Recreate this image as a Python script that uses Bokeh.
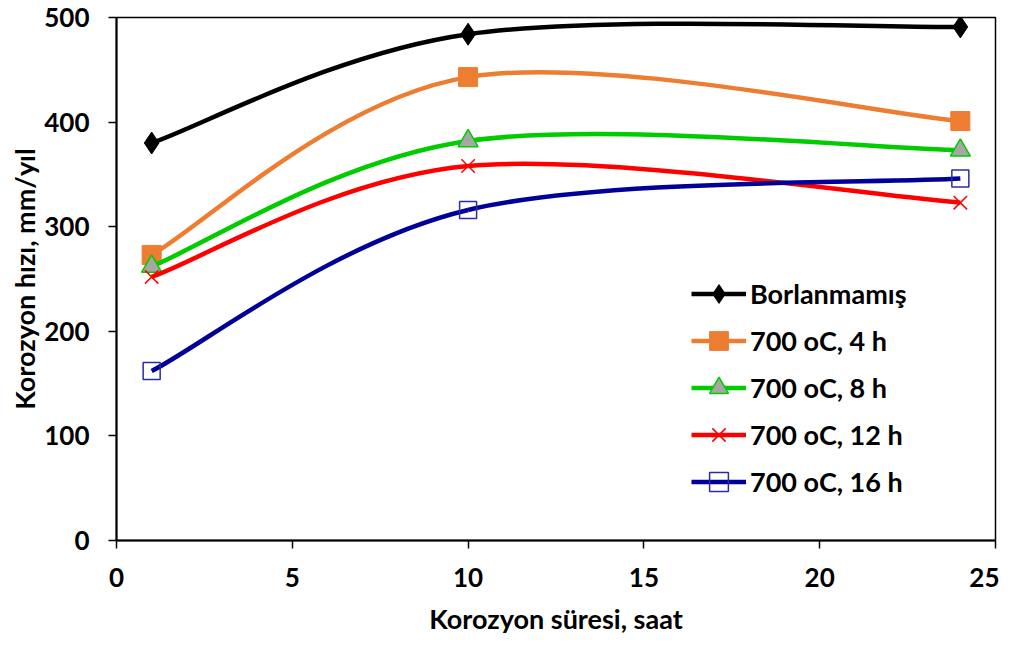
import numpy as np
from bokeh.plotting import figure
from bokeh.models import Legend, LegendItem, Range1d, FixedTicker
from bokeh.embed import file_html
from bokeh.resources import INLINE

hours = [1, 10, 24]
borlanmamis = [380, 484, 491]
b700_4h = [273, 443, 401]
b700_8h = [262, 382, 373]
b700_12h = [252, 358, 323]
b700_16h = [162, 316, 346]

series_names = ["Borlanmamış", "700 oC, 4 h", "700 oC, 8 h", "700 oC, 12 h", "700 oC, 16 h"]
x_ticks = [0, 5, 10, 15, 20, 25]
y_ticks = [0, 100, 200, 300, 400, 500]

FONT = "Lato"

p = figure(width=999, height=637, output_backend="svg", toolbar_location=None,
           x_range=Range1d(0, 25), y_range=Range1d(0, 500),
           min_border_left=116, min_border_right=4, min_border_top=17, min_border_bottom=93)
p.xgrid.visible = False
p.ygrid.visible = False
p.outline_line_color = "black"
p.outline_line_width = 1.5

for ax in (p.xaxis[0], p.yaxis[0]):
    ax.axis_line_width = 2
    ax.major_tick_line_width = 1.5
    ax.major_tick_in = 0
    ax.major_tick_out = 8
    ax.minor_tick_line_color = None
    ax.major_label_text_font = FONT
    ax.major_label_text_font_style = "bold"
    ax.major_label_text_font_size = "26px"
    ax.major_label_text_color = "black"
    ax.axis_label_text_font = FONT
    ax.axis_label_text_font_style = "bold"
    ax.axis_label_text_font_size = "27px"
    ax.axis_label_text_color = "black"

p.xaxis.ticker = FixedTicker(ticks=x_ticks)
p.yaxis.ticker = FixedTicker(ticks=y_ticks)
p.xaxis.axis_label = "Korozyon süresi, saat"
p.yaxis.axis_label = "Korozyon hızı, mm/yıl"
p.xaxis.major_label_standoff = 19
p.yaxis.major_label_standoff = 19
p.xaxis.axis_label_standoff = 12
p.yaxis.axis_label_standoff = 0


def smooth_segments(xs, ys):
    P = np.column_stack([xs, ys]).astype(float)
    n = len(P)
    segs = dict(x0=[], y0=[], x1=[], y1=[], cx0=[], cy0=[], cx1=[], cy1=[])
    for i in range(n - 1):
        pm = P[i - 1] if i > 0 else P[i]
        pn = P[i + 2] if i + 2 < n else P[i + 1]
        c1 = P[i] + (P[i + 1] - pm) / 6.0
        c2 = P[i + 1] - (pn - P[i]) / 6.0
        segs["x0"].append(P[i][0]); segs["y0"].append(P[i][1])
        segs["x1"].append(P[i + 1][0]); segs["y1"].append(P[i + 1][1])
        segs["cx0"].append(c1[0]); segs["cy0"].append(c1[1])
        segs["cx1"].append(c2[0]); segs["cy1"].append(c2[1])
    return segs


styles = [
    dict(color="#000000", marker="diamond", size=22, fill="#000000", mline="#000000", mlw=1),
    dict(color="#ED7D31", marker="square", size=19, fill="#ED7D31", mline="#ED7D31", mlw=1),
    dict(color="#00CC00", marker="triangle", size=20, fill="#A6A6A6", mline="#00CC00", mlw=1.5),
    dict(color="#FF0000", marker="x", size=19, fill=None, mline="#FF0000", mlw=1.5),
    dict(color="#000099", marker="square", size=17, fill=None, mline="#2B2BA6", mlw=1.5),
]
all_series = [borlanmamis, b700_4h, b700_8h, b700_12h, b700_16h]

items = []
for name, vals, st in zip(series_names, all_series, styles):
    seg = smooth_segments(hours, vals)
    br = p.bezier(x0=seg["x0"], y0=seg["y0"], x1=seg["x1"], y1=seg["y1"],
                  cx0=seg["cx0"], cy0=seg["cy0"], cx1=seg["cx1"], cy1=seg["cy1"],
                  line_color=st["color"], line_width=4.5)
    sr = p.scatter(hours, vals, marker=st["marker"], size=st["size"],
                   fill_color=st["fill"], line_color=st["mline"], line_width=st["mlw"])
    items.append(LegendItem(label=name, renderers=[br, sr]))

legend = Legend(items=items, location=(575, 35), orientation="vertical",
                glyph_width=55, glyph_height=47, label_height=47, spacing=0,
                label_standoff=4, padding=0, margin=0,
                border_line_color=None, background_fill_alpha=0,
                label_text_font=FONT, label_text_font_style="bold",
                label_text_font_size="27px", label_text_color="black")
p.add_layout(legend, "center")

open("out.html", "w").write(file_html(p, INLINE))
